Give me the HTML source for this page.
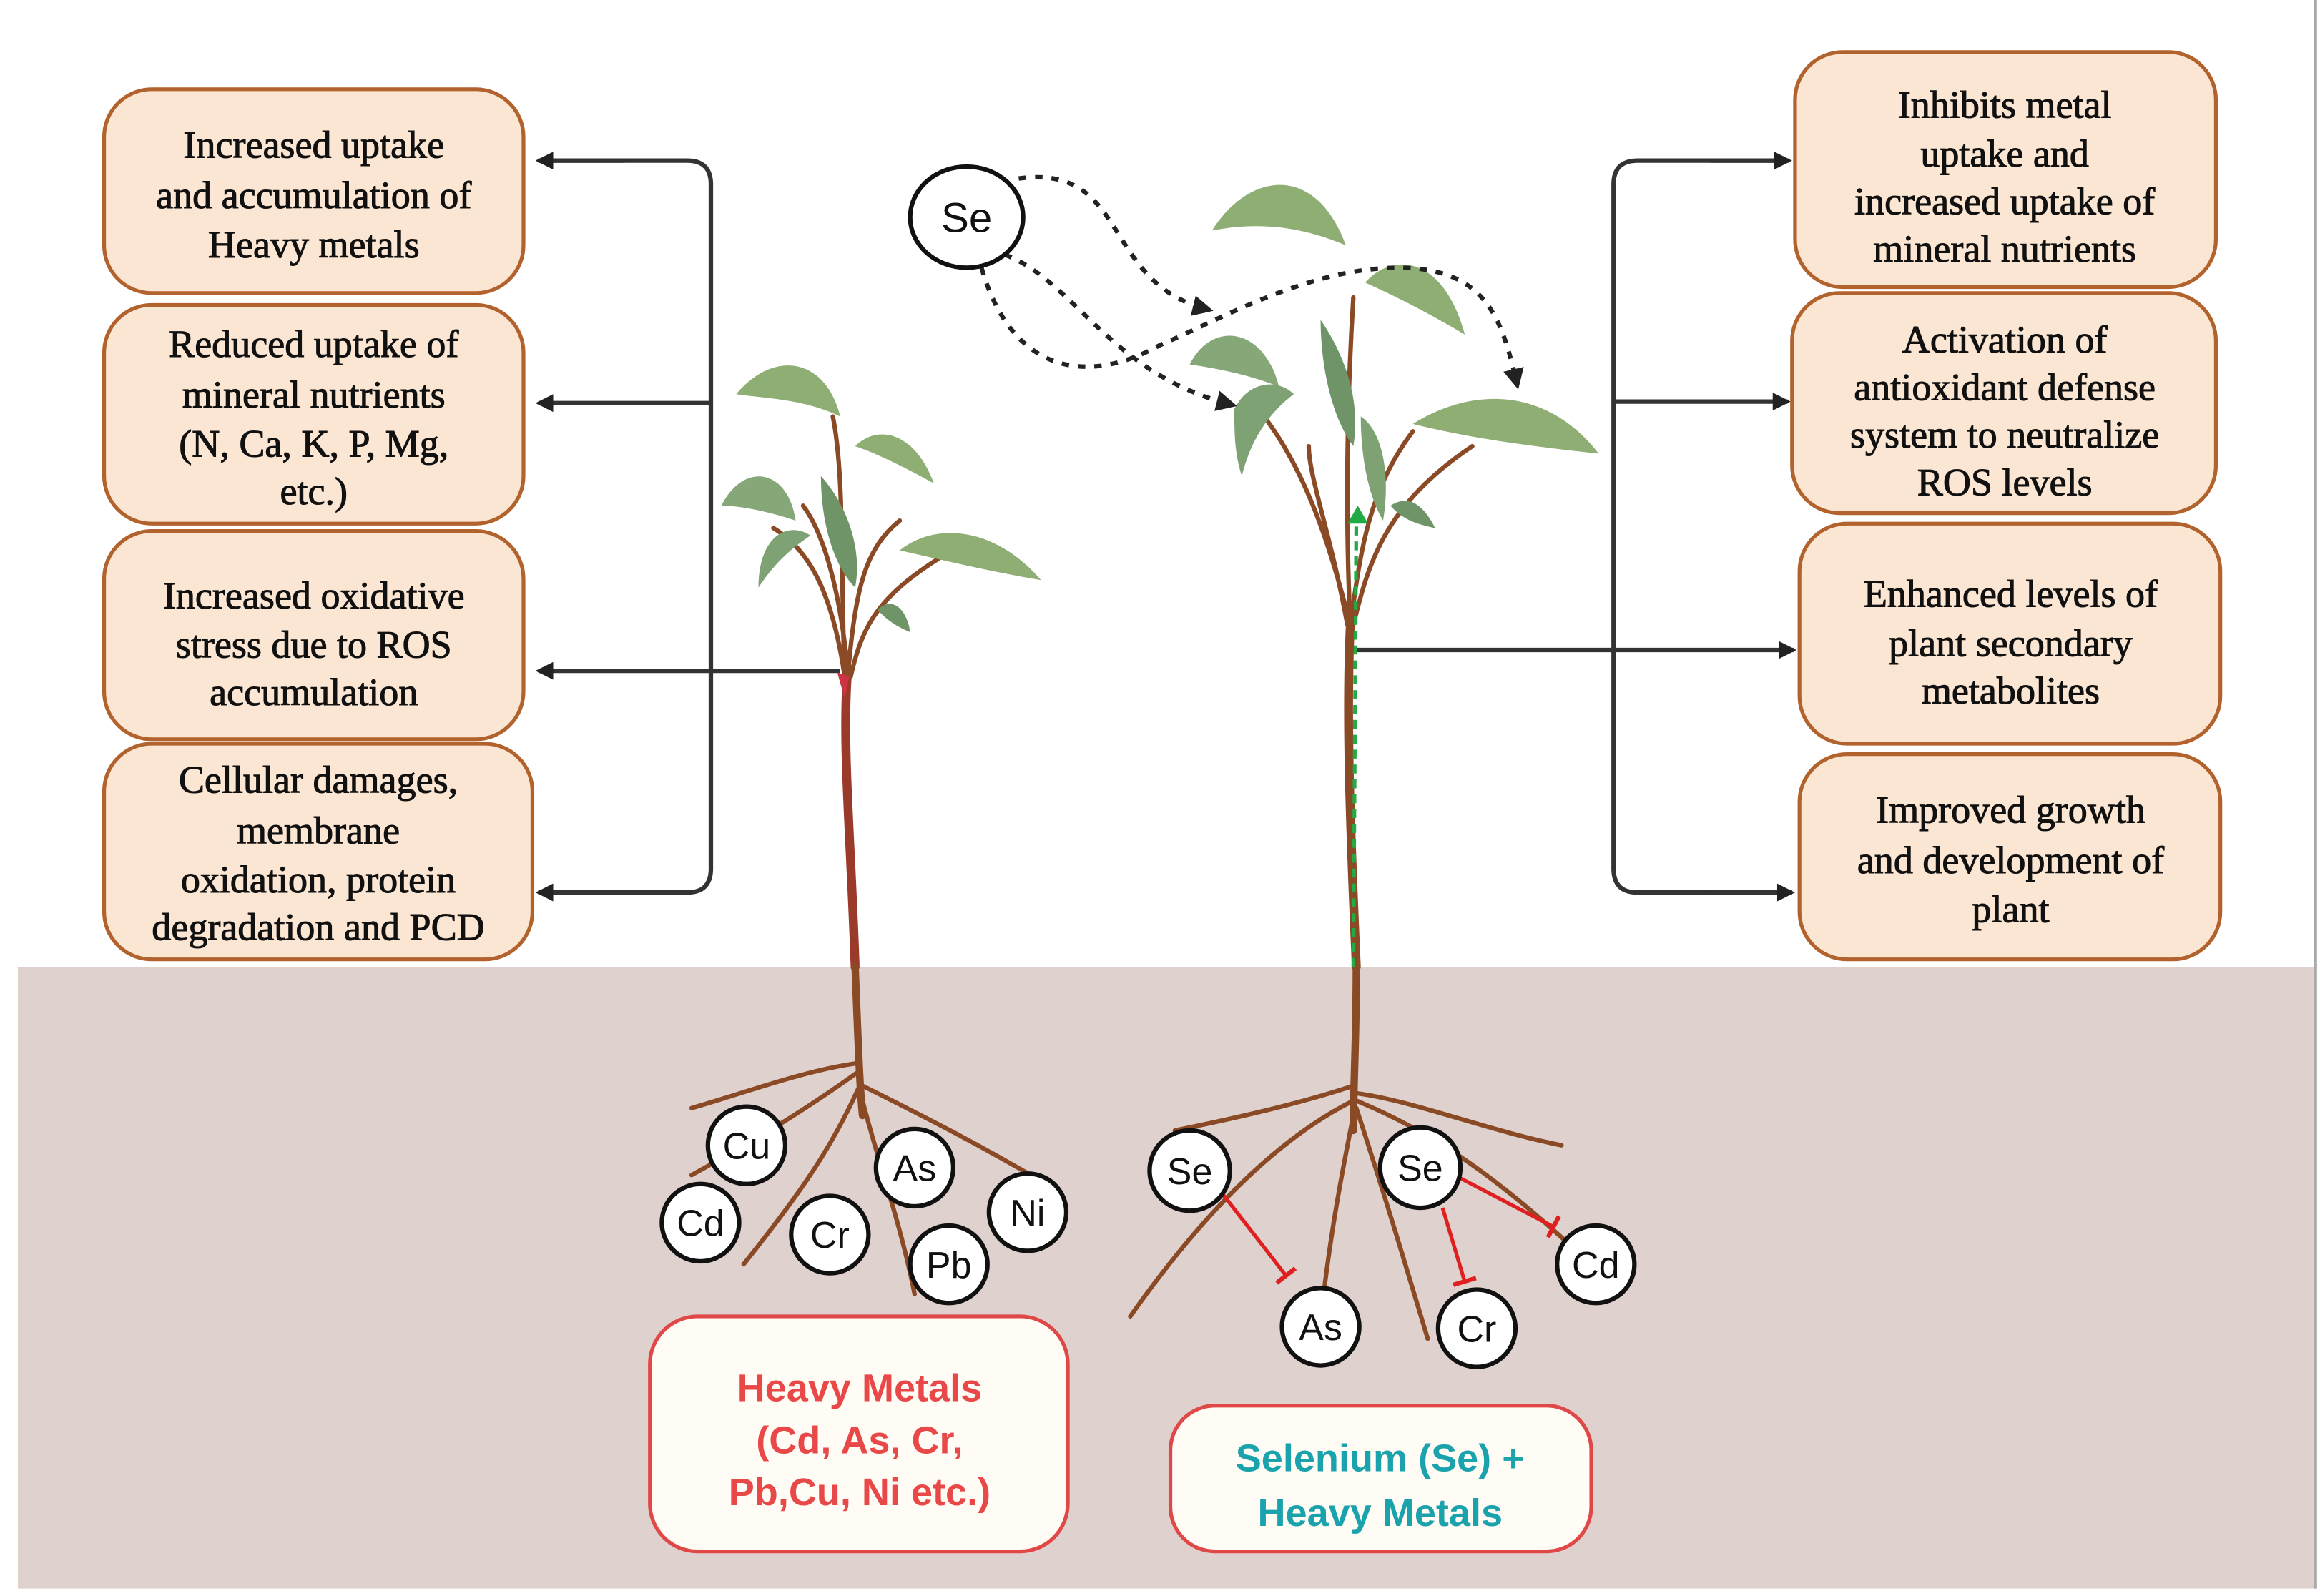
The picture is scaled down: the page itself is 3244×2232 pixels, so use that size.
<!DOCTYPE html>
<html><head><meta charset="utf-8"><style>html,body{margin:0;padding:0;background:#fff;}svg{display:block}</style></head>
<body>
<svg width="3244" height="2232" viewBox="0 0 1560 1073" preserveAspectRatio="none" xmlns="http://www.w3.org/2000/svg">
<defs>
<marker id="ah" markerWidth="12" markerHeight="12" refX="10" refY="6" orient="auto" markerUnits="userSpaceOnUse"><path d="M0,0 L12,6 L0,12 z" fill="#222"/></marker>
<marker id="ahd" markerWidth="14" markerHeight="14" refX="10" refY="7" orient="auto" markerUnits="userSpaceOnUse"><path d="M0,0 L14,7 L0,14 z" fill="#222"/></marker>
<marker id="tb" markerWidth="4" markerHeight="16" refX="2" refY="8" orient="auto" markerUnits="userSpaceOnUse"><rect x="0" y="0" width="3" height="16" fill="#e02020"/></marker>
</defs>
<rect x="0" y="0" width="1560" height="1073" fill="#fff"/>
<rect x="12" y="650" width="1545" height="418" fill="#dfd1cd"/>
<line x1="1557" y1="0" x2="1557" y2="1068" stroke="#aaa" stroke-width="2"/>

<g fill="none" stroke="#333" stroke-width="3">
<path d="M362,108 H462 Q478,108 478,124 V584 Q478,600 462,600 H362"/>
<path d="M420,108 H362" marker-end="url(#ah)"/>
<path d="M420,600 H362" marker-end="url(#ah)"/>
<path d="M478,271 H362" marker-end="url(#ah)"/>
<path d="M565,451 H362" marker-end="url(#ah)"/>
<path d="M1200,108 H1101 Q1085,108 1085,124 V584 Q1085,600 1101,600 H1200"/>
<path d="M1150,108 H1203" marker-end="url(#ah)"/>
<path d="M1150,600 H1205" marker-end="url(#ah)"/>
<path d="M1085,270 H1202" marker-end="url(#ah)"/>
<path d="M905,437 H1206" marker-end="url(#ah)"/>
</g>

<g fill="#fbe6d3" stroke="#b2622c" stroke-width="2.5">
<rect x="70" y="60" width="282" height="137" rx="32"/>
<rect x="70" y="205" width="282" height="147" rx="32"/>
<rect x="70" y="357" width="282" height="140" rx="32"/>
<rect x="70" y="500" width="288" height="145" rx="32"/>
<rect x="1207" y="35" width="283" height="158" rx="32"/>
<rect x="1205" y="197" width="285" height="148" rx="32"/>
<rect x="1210" y="352" width="283" height="148" rx="32"/>
<rect x="1210" y="507" width="283" height="138" rx="32"/>
</g>
<g font-family="Liberation Serif, serif" font-size="26" fill="#111" stroke="#111" stroke-width="0.5" text-anchor="middle">
<text x="211" y="106">Increased uptake</text><text x="211" y="140">and accumulation of</text><text x="211" y="173">Heavy metals</text>
<text x="211" y="240">Reduced uptake of</text><text x="211" y="274">mineral nutrients</text><text x="211" y="307">(N, Ca, K, P, Mg,</text><text x="211" y="339">etc.)</text>
<text x="211" y="409">Increased oxidative</text><text x="211" y="442">stress due to ROS</text><text x="211" y="474">accumulation</text>
<text x="214" y="533">Cellular damages,</text><text x="214" y="567">membrane</text><text x="214" y="600">oxidation, protein</text><text x="214" y="632">degradation and PCD</text>
<text x="1348" y="79">Inhibits metal</text><text x="1348" y="112">uptake and</text><text x="1348" y="144">increased uptake of</text><text x="1348" y="176">mineral nutrients</text>
<text x="1348" y="237">Activation of</text><text x="1348" y="269">antioxidant defense</text><text x="1348" y="301">system to neutralize</text><text x="1348" y="333">ROS levels</text>
<text x="1352" y="408">Enhanced levels of</text><text x="1352" y="441">plant secondary</text><text x="1352" y="473">metabolites</text>
<text x="1352" y="553">Improved growth</text><text x="1352" y="587">and development of</text><text x="1352" y="620">plant</text>
</g>

<g fill="none" stroke="#8a4a26" stroke-width="3" stroke-linecap="round">
<path d="M575,650 C572,560 566,500 570,450" stroke-width="6" stroke="#9a3a2a"/>
<path d="M568,455 C560,400 545,370 520,355"/>
<path d="M568,455 C565,380 568,320 560,280"/>
<path d="M570,455 C575,400 580,370 605,350"/>
<path d="M572,455 C580,420 590,400 640,370"/>
<path d="M570,450 C565,400 555,360 540,340"/>
<path d="M575,650 C577,700 578,730 580,750" stroke-width="5"/>
<path d="M578,720 C550,740 520,760 465,790"/>
<path d="M578,730 C560,770 540,800 500,850"/>
<path d="M580,740 C590,780 605,820 615,870"/>
<path d="M580,730 C620,750 660,770 710,800"/>
<path d="M575,715 C540,720 500,735 465,745"/>
</g>
<g fill="#8fae74">
<path d="M495,265 C520,235 555,240 565,280 C540,268 515,268 495,265z"/>
<path d="M575,300 C590,285 615,290 628,325 C610,315 590,305 575,300z"/>
<path d="M485,340 C500,310 530,315 535,350 C520,345 500,340 485,340z" fill="#86a878"/>
<path d="M510,395 C510,360 530,350 545,360 C530,370 520,380 510,395z" fill="#7fa275"/>
<path d="M552,320 C570,340 580,370 575,395 C560,380 552,350 552,320z" fill="#6e9468"/>
<path d="M605,370 C630,350 670,355 700,390 C670,385 640,378 605,370z"/>
<path d="M590,410 C600,400 610,410 612,425 C600,420 595,415 590,410z" fill="#6e9468"/>
</g>

<g fill="none" stroke="#8a4a26" stroke-width="3" stroke-linecap="round">
<path d="M912,650 C908,560 905,480 908,420" stroke-width="6"/>
<path d="M908,420 C905,360 905,280 910,200"/>
<path d="M908,420 C895,370 880,320 850,280"/>
<path d="M908,420 C915,370 920,330 950,290"/>
<path d="M910,420 C920,380 930,340 990,300"/>
<path d="M906,420 C895,360 880,320 880,300"/>
<path d="M912,650 C912,700 910,730 910,760" stroke-width="5"/>
<path d="M910,740 C870,760 820,800 760,885"/>
<path d="M910,750 C900,800 895,830 890,870"/>
<path d="M912,745 C930,800 945,850 960,900"/>
<path d="M912,740 C960,760 1010,790 1090,870"/>
<path d="M910,730 C880,740 840,750 790,760"/>
<path d="M912,735 C950,740 1000,760 1050,770"/>
</g>
<path d="M910,650 L912,350" stroke="#22aa44" stroke-width="2.5" stroke-dasharray="6,4" fill="none"/>
<path d="M906,352 L913,340 L920,352z" fill="#22aa44"/>
<path d="M571,455 L563,452 L568,470z" fill="#cc3344"/>
<g fill="#8fae74">
<path d="M815,155 C840,115 885,110 905,165 C870,150 840,150 815,155z"/>
<path d="M918,190 C935,170 970,170 985,225 C960,210 940,200 918,190z"/>
<path d="M800,245 C815,215 850,220 860,260 C840,252 820,248 800,245z" fill="#86a878"/>
<path d="M830,275 C840,255 860,255 870,265 C850,280 840,300 835,320 C830,305 830,290 830,275z" fill="#7fa275"/>
<path d="M888,215 C905,240 915,270 910,300 C895,280 888,245 888,215z" fill="#6e9468"/>
<path d="M950,285 C990,260 1040,260 1075,305 C1030,300 990,295 950,285z"/>
<path d="M915,280 C930,290 935,320 930,350 C918,330 915,300 915,280z" fill="#7fa275"/>
<path d="M935,340 C950,330 960,345 965,355 C950,352 942,348 935,340z" fill="#6e9468"/>
</g>

<g fill="none" stroke="#222" stroke-width="3" stroke-dasharray="5,6">
<path d="M685,120 C760,110 740,190 812,208" marker-end="url(#ahd)"/>
<path d="M665,168 C720,180 740,250 828,272" marker-end="url(#ahd)"/>
<path d="M660,180 C680,250 730,260 780,232 C820,215 880,180 940,180 C1000,180 1010,215 1020,258" marker-end="url(#ahd)"/>
</g>
<ellipse cx="650" cy="146" rx="38" ry="34" fill="#fff" stroke="#111" stroke-width="3"/>
<text x="650" y="156" font-family="Liberation Sans, sans-serif" font-size="28" text-anchor="middle" fill="#111">Se</text>

<g stroke="#e02020" stroke-width="2.5" fill="none">
<path d="M820,800 L865,858" marker-end="url(#tb)"/>
<path d="M978,790 L1045,825" marker-end="url(#tb)"/>
<path d="M970,812 L985,862" marker-end="url(#tb)"/>
</g>

<g font-family="Liberation Sans, sans-serif" font-size="25" text-anchor="middle" fill="#111">
<g stroke="#111" stroke-width="3" fill="#fff">
<circle cx="502" cy="770" r="26"/><circle cx="471" cy="822" r="26"/><circle cx="558" cy="830" r="26"/>
<circle cx="615" cy="785" r="26"/><circle cx="638" cy="850" r="26"/><circle cx="691" cy="815" r="26"/>
<circle cx="800" cy="787" r="27"/><circle cx="955" cy="785" r="27"/><circle cx="888" cy="892" r="26"/>
<circle cx="993" cy="893" r="26"/><circle cx="1073" cy="850" r="26"/>
</g>
<text x="502" y="779">Cu</text><text x="471" y="831">Cd</text><text x="558" y="839">Cr</text>
<text x="615" y="794">As</text><text x="638" y="859">Pb</text><text x="691" y="824">Ni</text>
<text x="800" y="796">Se</text><text x="955" y="794">Se</text><text x="888" y="901">As</text>
<text x="993" y="902">Cr</text><text x="1073" y="859">Cd</text>
</g>

<rect x="437" y="885" width="281" height="158" rx="32" fill="#fffbf5" stroke="#e04848" stroke-width="2.5"/>
<g font-family="Liberation Sans, sans-serif" font-size="26" font-weight="bold" fill="#e84848" text-anchor="middle">
<text x="578" y="942">Heavy Metals</text><text x="578" y="977">(Cd, As, Cr,</text><text x="578" y="1012">Pb,Cu, Ni etc.)</text>
</g>
<rect x="787" y="945" width="283" height="98" rx="30" fill="#fffbf5" stroke="#e04848" stroke-width="2.5"/>
<g font-family="Liberation Sans, sans-serif" font-size="26" font-weight="bold" fill="#1aa3ad" text-anchor="middle">
<text x="928" y="989">Selenium (Se) +</text><text x="928" y="1026">Heavy Metals</text>
</g>
</svg>
</body></html>
